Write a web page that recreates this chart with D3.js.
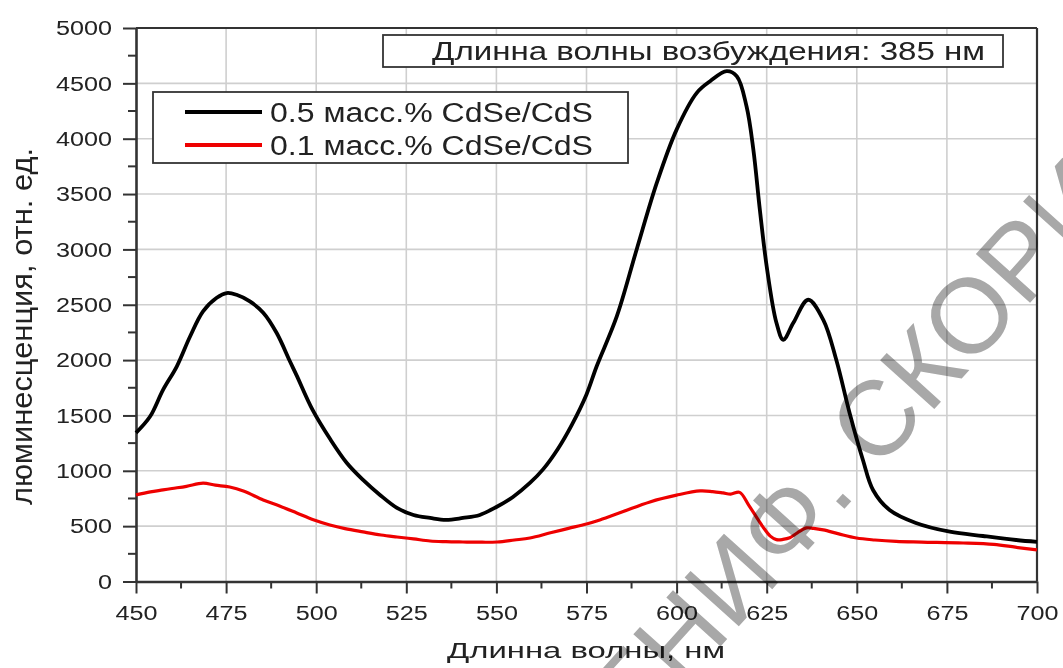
<!DOCTYPE html>
<html><head><meta charset="utf-8">
<script src="https://cdn.jsdelivr.net/npm/d3@7"></script>
<style>body{margin:0;background:#fff}svg{display:block}text{font-family:"Liberation Sans",Arial,sans-serif}</style>
</head><body>
<svg id="c" width="1063" height="668"></svg>
<script>
const blackX = [450,453.9,457.5,461.3,465,468.6,472.4,475.2,477.9,481.6,485.3,489,492.7,494.6,499,504,508.5,513,517.7,522.4,527,531.6,536,540.7,545.4,550,554.6,559.3,563,567,571,575,577.8,583.4,588.9,594.5,600,605.6,609.3,613.9,616.7,619.4,621.3,623.1,625,627.7,629.6,632.4,636.5,640.7,644.3,648,651.7,654.5,659.1,666.4,675.8,685,694.2,700];
const blackY = [1343,1490,1731,1942,2213,2440,2563,2606,2590,2530,2428,2247,1990,1860,1550,1280,1071,918,782,665,601,574,556,574,601,673,764,890,1015,1195,1420,1690,1942,2394,2997,3600,4082,4414,4519,4610,4564,4293,3901,3358,2846,2337,2184,2337,2545,2364,2003,1523,1098,827,646,529,450,411,375,358];
const redX = [450,454,457.5,460,464,468.6,472,476,480,485.3,490,494.6,499,503.8,508,513,518,522.4,527,531.6,536,540.7,545,550.2,555,559.3,565,570,575,578.7,585,592.6,600,606.5,610,612.9,615,617.5,620,623.9,626,627.7,629.5,631.4,633.5,636,638,640.7,645,649.9,655,660.9,668,679.5,688,694,700];
const redY = [782,810,827,840,860,888,870,854,815,737,680,619,560,511,478,448,420,402,385,366,360,357,355,357,375,393,440,480,520,556,630,719,780,818,812,800,790,805,690,496,410,378,380,395,440,484,480,466,430,393,375,362,356,348,335,310,285];
const xTicks = [450,475,500,525,550,575,600,625,650,675,700];
const yTicks = [0,500,1000,1500,2000,2500,3000,3500,4000,4500,5000];
const seriesNames = ["0.5 масс.% CdSe/CdS","0.1 масс.% CdSe/CdS"];
const seriesColors = ["#000000","#ee0000"];
const titleText = "Длинна волны возбуждения: 385 нм";
const xLabel = "Длинна волны, нм";
const yLabel = "люминесценция, отн. ед.";
const watermarkLeft = "ИМЕНИ ";
const watermarkRight = "Ф. СКОРИНЫ";

const svg = d3.select("#c");
const L=136,R=1037,T=28,B=581.5;
const x = d3.scaleLinear().domain([450,700]).range([L,R]);
const y = d3.scaleLinear().domain([0,5000]).range([B,T]);

// grid
const grid = svg.append("g");
grid.selectAll("line.gx").data(xTicks.slice(1,-1)).join("line")
  .attr("x1",d=>x(d)).attr("x2",d=>x(d)).attr("y1",T).attr("y2",B)
  .attr("stroke","#cfcfcf").attr("stroke-width",1.6);
grid.selectAll("line.gy").data(yTicks.slice(1,-1)).join("line")
  .attr("y1",d=>y(d)).attr("y2",d=>y(d)).attr("x1",L).attr("x2",R)
  .attr("stroke","#cfcfcf").attr("stroke-width",1.6);

// frame top/right
svg.append("line").attr("x1",L).attr("x2",R).attr("y1",T).attr("y2",T).attr("stroke","#333").attr("stroke-width",2.2);
svg.append("line").attr("x1",R).attr("x2",R).attr("y1",T).attr("y2",B).attr("stroke","#333").attr("stroke-width",2.2);

// axes
const minorX = d3.range(462.5,700,25);
const minorY = d3.range(250,5000,500);
const gx = svg.append("g").attr("transform",`translate(0,${B})`);
gx.call(d3.axisBottom(x).tickValues(xTicks).tickFormat(d3.format("d")).tickSize(12).tickSizeOuter(0).tickPadding(12));
gx.append("g").selectAll("line").data(minorX).join("line")
  .attr("x1",d=>x(d)).attr("x2",d=>x(d)).attr("y1",0).attr("y2",7).attr("stroke","#333").attr("stroke-width",2);
const gy = svg.append("g").attr("transform",`translate(${L},0)`);
gy.call(d3.axisLeft(y).tickValues(yTicks).tickFormat(d3.format("d")).tickSize(13).tickSizeOuter(0).tickPadding(11));
gy.append("g").selectAll("line").data(minorY).join("line")
  .attr("y1",d=>y(d)).attr("y2",d=>y(d)).attr("x1",0).attr("x2",-8).attr("stroke","#333").attr("stroke-width",2);
[gx,gy].forEach(g=>{
  g.select(".domain").attr("stroke","#333").attr("stroke-width",2.6);
  g.selectAll(".tick line").attr("stroke","#333").attr("stroke-width",2);
  g.selectAll(".tick text").attr("font-size",21).attr("fill","#222")
    .attr("font-family","Liberation Sans, Arial, sans-serif");
});
gx.selectAll(".tick text").attr("x",0).attr("transform","scale(1.2,1)");
gy.selectAll(".tick text").attr("x",-24/1.2).attr("transform","scale(1.2,1)");

// lines
const line = d3.line().x(d=>x(d[0])).y(d=>y(d[1])).curve(d3.curveCatmullRom.alpha(0.5));
const series = [d3.zip(blackX,blackY), d3.zip(redX,redY)];
svg.append("path").datum(series[1]).attr("d",line).attr("fill","none").attr("stroke",seriesColors[1]).attr("stroke-width",3.2).attr("stroke-linejoin","round");
svg.append("path").datum(series[0]).attr("d",line).attr("fill","none").attr("stroke",seriesColors[0]).attr("stroke-width",3.8).attr("stroke-linejoin","round");

// title box
svg.append("rect").attr("x",383).attr("y",35).attr("width",620).attr("height",32)
  .attr("fill","#fff").attr("stroke","#333").attr("stroke-width",1.8);
svg.append("text").attr("x",432).attr("y",60).attr("font-size",25).attr("fill","#222")
  .attr("textLength",553).attr("lengthAdjust","spacingAndGlyphs").text(titleText);

// legend
svg.append("rect").attr("x",153).attr("y",92).attr("width",475).attr("height",71)
  .attr("fill","#fff").attr("stroke","#333").attr("stroke-width",1.8);
[112,145].forEach((ly,i)=>{
  svg.append("line").attr("x1",185).attr("x2",262).attr("y1",ly).attr("y2",ly)
    .attr("stroke",seriesColors[i]).attr("stroke-width",4);
  svg.append("text").attr("x",270).attr("y",ly+10).attr("font-size",27).attr("fill","#222")
    .attr("textLength",323).attr("lengthAdjust","spacingAndGlyphs").text(seriesNames[i]);
});

// axis labels
svg.append("text").attr("x",447).attr("y",658).attr("font-size",22).attr("fill","#222")
  .attr("textLength",278).attr("lengthAdjust","spacingAndGlyphs").text(xLabel);
svg.append("g").attr("transform","translate(32,326.5) scale(1.2,1) rotate(-90)")
  .append("text").attr("text-anchor","middle").attr("font-size",24).attr("fill","#222")
  .attr("textLength",357).attr("lengthAdjust","spacingAndGlyphs").text(yLabel);

// watermark
const wm = svg.append("g").attr("transform","translate(784,576) rotate(-48)")
  .style("mix-blend-mode","multiply");
wm.append("text").attr("text-anchor","end").attr("font-size",106).attr("fill","#a8a8a8").text(watermarkLeft);
wm.append("text").attr("text-anchor","start").attr("font-size",106).attr("fill","#a8a8a8").text(watermarkRight);
</script>
</body></html>
